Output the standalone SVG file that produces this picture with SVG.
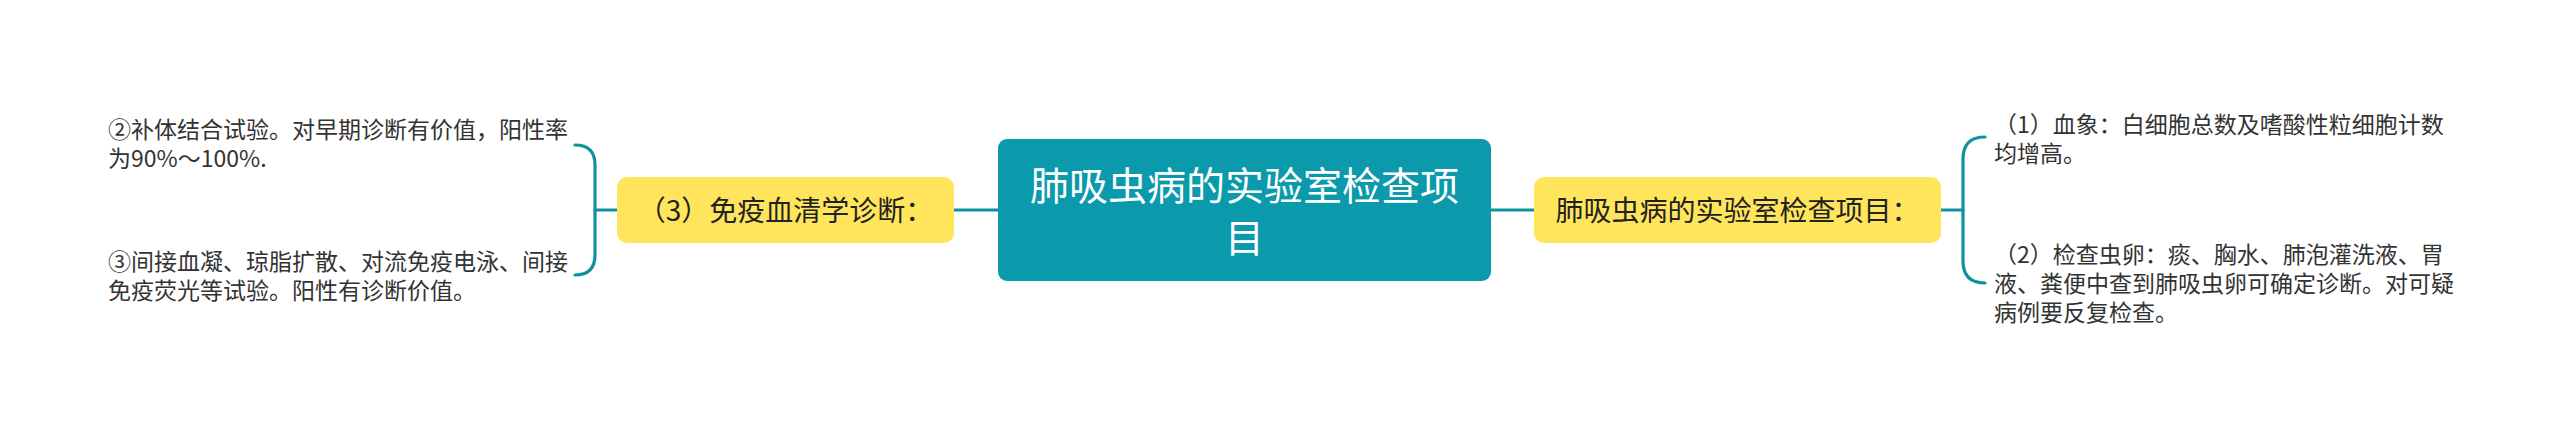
<svg xmlns="http://www.w3.org/2000/svg" width="2560" height="435" viewBox="0 0 2560 435">
<style>
text{font-family:"Noto Sans CJK SC","Noto Sans",sans-serif}
.conn{fill:none;stroke:#11919f;stroke-width:3.2;stroke-linecap:round}
.root rect{fill:#0a9aab}
.root text{fill:#ffffff;font-size:39px}
.sub rect{fill:#ffe55c}
.sub text{fill:#222;font-size:28px}
.leaf text{fill:#333;font-size:23px}
</style>
<rect width="2560" height="435" fill="#ffffff"/>
<g id="connectors">
<path class="conn" d="M954,210 H998"/>
<path class="conn" d="M595,210 H617"/>
<path class="conn" d="M575,145 Q595,145 595,165 V255 Q595,275 575,275"/>
<path class="conn" d="M1491,210 H1534"/>
<path class="conn" d="M1941,210 H1963"/>
<path class="conn" d="M1985,137 Q1963,137 1963,159 V261 Q1963,283 1985,283"/>
</g>
<g id="root" class="root">
<rect x="998" y="139" width="493" height="142" rx="9"/>
<text x="1244.5" y="200" text-anchor="middle">肺吸虫病的实验室检查项</text>
<text x="1244.5" y="252" text-anchor="middle">目</text>
</g>
<g id="sub-left" class="sub">
<rect x="617" y="177" width="337" height="66" rx="10"/>
<text x="785.5" y="221" text-anchor="middle">（3）免疫血清学诊断：</text>
</g>
<g id="sub-right" class="sub">
<rect x="1534" y="177" width="407" height="66" rx="10"/>
<text x="1737.5" y="221" text-anchor="middle">肺吸虫病的实验室检查项目：</text>
</g>
<g id="leaf-l1" class="leaf">
<text x="108" y="138">②补体结合试验。对早期诊断有价值，阳性率</text>
<text x="108" y="167">为90%～100%.</text>
</g>
<g id="leaf-l2" class="leaf">
<text x="108" y="270">③间接血凝、琼脂扩散、对流免疫电泳、间接</text>
<text x="108" y="299">免疫荧光等试验。阳性有诊断价值。</text>
</g>
<g id="leaf-r1" class="leaf">
<text x="1994" y="133">（1）血象：白细胞总数及嗜酸性粒细胞计数</text>
<text x="1994" y="162">均增高。</text>
</g>
<g id="leaf-r2" class="leaf">
<text x="1994" y="263">（2）检查虫卵：痰、胸水、肺泡灌洗液、胃</text>
<text x="1994" y="292">液、粪便中查到肺吸虫卵可确定诊断。对可疑</text>
<text x="1994" y="321">病例要反复检查。</text>
</g>
</svg>
